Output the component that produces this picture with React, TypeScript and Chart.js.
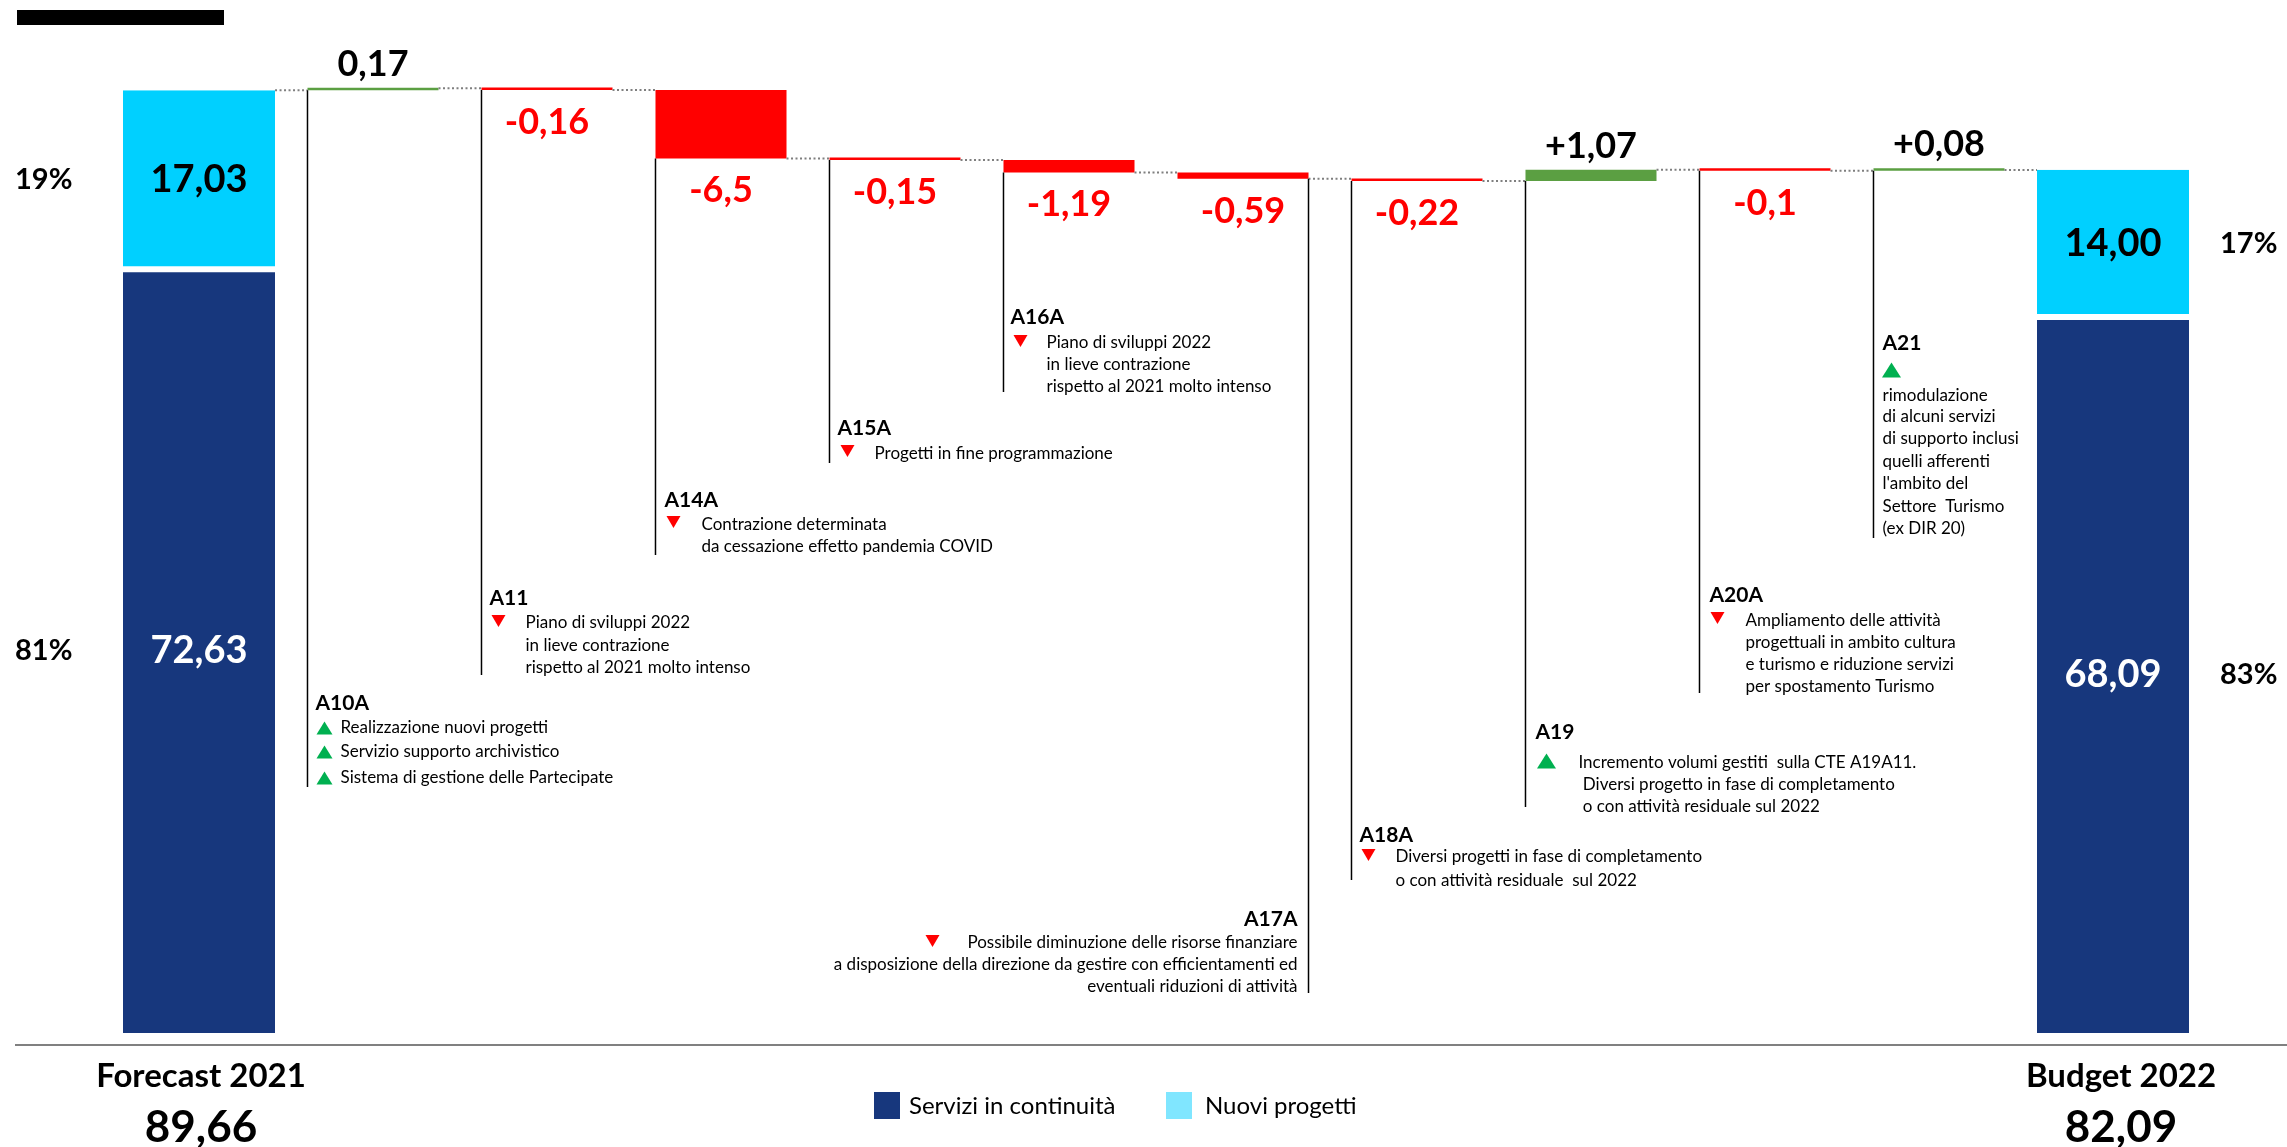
import React, { useEffect, useRef } from 'react';
import { Chart, registerables } from 'chart.js';

Chart.register(...registerables);

// ---------------- DATA ----------------
const categories = ['Forecast 2021', 'A10A', 'A11', 'A14A', 'A15A', 'A16A', 'A17A', 'A18A', 'A19', 'A20A', 'A21', 'Budget 2022'];
const totalNames = ['Forecast 2021', 'Budget 2022'];
const totalValues = [89.66, 82.09];
const totalLabels = ['89,66', '82,09'];
const continuityValues = [72.63, 68.09];
const newProjectValues = [17.03, 14.0];
const deltaValues = [0.17, -0.16, -6.5, -0.15, -1.19, -0.59, -0.22, 1.07, -0.1, 0.08];
const deltaLabels = ['0,17', '-0,16', '-6,5', '-0,15', '-1,19', '-0,59', '-0,22', '+1,07', '-0,1', '+0,08'];
const legendLabels = ['Servizi in continuità', 'Nuovi progetti'];

const noteTexts: string[][] = [
  ['Realizzazione nuovi progetti', 'Servizio supporto archivistico', 'Sistema di gestione delle Partecipate'],
  ['Piano di sviluppi 2022', 'in lieve contrazione', 'rispetto al 2021 molto intenso'],
  ['Contrazione determinata', 'da cessazione effetto pandemia COVID'],
  ['Progetti in fine programmazione'],
  ['Piano di sviluppi 2022', 'in lieve contrazione', 'rispetto al 2021 molto intenso'],
  ['Possibile diminuzione delle risorse finanziare', 'a disposizione della direzione da gestire con efficientamenti ed', 'eventuali riduzioni di attività'],
  ['Diversi progetti in fase di completamento', 'o con attività residuale  sul 2022'],
  ['Incremento volumi gestiti  sulla CTE A19A11.', ' Diversi progetto in fase di completamento', ' o con attività residuale sul 2022'],
  ['Ampliamento delle attività', 'progettuali in ambito cultura', 'e turismo e riduzione servizi', 'per spostamento Turismo'],
  ['rimodulazione', 'di alcuni servizi', 'di supporto inclusi', 'quelli afferenti', "l'ambito del", 'Settore  Turismo', '(ex DIR 20)'],
];

// ---------------- STYLE / LAYOUT ----------------
const DARK = '#17377D';
const LIGHT = '#00D0FF';
const LIGHT_LEGEND = '#80E6FF';
const RED = '#FF0000';
const GREEN = '#5B9F42';
const TRI_GREEN = '#00B050';
const FONT = 'Lato, "Open Sans", sans-serif';

type NoteLayout = {
  anchor: 'left' | 'right';
  titleDx: number;
  titleY: number;
  tris: number[][];
  triW: number;
  triH: number;
  textDx: number;
  lineYs: number[];
  bottom: number;
};

const noteLayouts: NoteLayout[] = [
  { anchor: 'left', titleDx: 8, titleY: 703, tris: [[17, 728], [17, 752], [17, 778]], triW: 16, triH: 13, textDx: 33, lineYs: [728, 752, 778], bottom: 787 },
  { anchor: 'left', titleDx: 8, titleY: 598, tris: [[17, 621]], triW: 14, triH: 12, textDx: 44, lineYs: [623, 646, 668], bottom: 675 },
  { anchor: 'left', titleDx: 9, titleY: 500, tris: [[18, 522]], triW: 14, triH: 12, textDx: 46, lineYs: [525, 547], bottom: 555 },
  { anchor: 'left', titleDx: 8, titleY: 428, tris: [[18, 451]], triW: 14, triH: 12, textDx: 45, lineYs: [454], bottom: 463 },
  { anchor: 'left', titleDx: 7, titleY: 317, tris: [[17, 341]], triW: 14, triH: 12, textDx: 43, lineYs: [343, 365, 387], bottom: 392 },
  { anchor: 'right', titleDx: -11, titleY: 919, tris: [[-376, 941]], triW: 14, triH: 12, textDx: -11, lineYs: [943, 965, 987], bottom: 993 },
  { anchor: 'left', titleDx: 8, titleY: 835, tris: [[17, 855]], triW: 14, triH: 12, textDx: 44, lineYs: [857, 881], bottom: 880 },
  { anchor: 'left', titleDx: 10, titleY: 732, tris: [[21, 761]], triW: 19, triH: 15, textDx: 53, lineYs: [763, 785, 807], bottom: 807 },
  { anchor: 'left', titleDx: 10, titleY: 595, tris: [[18, 618]], triW: 14, triH: 12, textDx: 46, lineYs: [621, 643, 665, 687], bottom: 693 },
  { anchor: 'left', titleDx: 9, titleY: 343, tris: [[18, 370]], triW: 19, triH: 15, textDx: 9, lineYs: [396, 417, 439, 462, 484, 507, 529], bottom: 538 },
];

function fmt(v: number) {
  return v.toFixed(2).replace('.', ',');
}

function triangle(ctx: CanvasRenderingContext2D, cx: number, cy: number, w: number, h: number, up: boolean, color: string) {
  ctx.beginPath();
  if (up) {
    ctx.moveTo(cx - w / 2, cy + h / 2);
    ctx.lineTo(cx + w / 2, cy + h / 2);
    ctx.lineTo(cx, cy - h / 2);
  } else {
    ctx.moveTo(cx - w / 2, cy - h / 2);
    ctx.lineTo(cx + w / 2, cy - h / 2);
    ctx.lineTo(cx, cy + h / 2);
  }
  ctx.closePath();
  ctx.fillStyle = color;
  ctx.fill();
}

const overlayPlugin = {
  id: 'overlay',
  afterDatasetsDraw(chart: any) {
    const ctx: CanvasRenderingContext2D = chart.ctx;
    const yScale = chart.scales.y;
    const darkMeta = chart.getDatasetMeta(0);
    const lightMeta = chart.getDatasetMeta(1);
    const stepMeta = chart.getDatasetMeta(2);
    const n = categories.length;
    const last = n - 1;

    ctx.save();

    // redacted title block
    ctx.fillStyle = '#000';
    ctx.fillRect(17, 10, 207, 15);

    // baseline axis
    ctx.strokeStyle = '#808080';
    ctx.lineWidth = 2;
    ctx.beginPath();
    ctx.moveTo(15, 1045);
    ctx.lineTo(2287, 1045);
    ctx.stroke();

    const barAt = (i: number) => {
      const el = i === 0 || i === last ? darkMeta.data[i] : stepMeta.data[i];
      return { left: el.x - el.width / 2, right: el.x + el.width / 2, x: el.x };
    };

    // dotted connectors
    ctx.strokeStyle = '#7f7f7f';
    ctx.lineWidth = 2;
    ctx.setLineDash([2, 2.5]);
    let level = totalValues[0];
    for (let i = 0; i < last; i++) {
      if (i > 0) level += deltaValues[i - 1];
      const py = yScale.getPixelForValue(level);
      const a = barAt(i);
      const b = barAt(i + 1);
      ctx.beginPath();
      ctx.moveTo(a.right, py);
      ctx.lineTo(b.left, py);
      ctx.stroke();
    }
    ctx.setLineDash([]);

    // step labels + annotation lines/text
    for (let k = 0; k < deltaValues.length; k++) {
      const i = k + 1;
      const el = stepMeta.data[i];
      const top = Math.min(el.y, el.base);
      const bottom = Math.max(el.y, el.base);
      const left = el.x - el.width / 2;
      const right = el.x + el.width / 2;
      const d = deltaValues[k];
      ctx.font = `bold 36px ${FONT}`;
      ctx.textAlign = 'center';
      ctx.textBaseline = 'alphabetic';
      if (d >= 0) {
        ctx.fillStyle = '#000';
        ctx.fillText(deltaLabels[k], el.x, top - 12);
      } else {
        ctx.fillStyle = RED;
        ctx.fillText(deltaLabels[k], el.x, bottom + 44);
      }

      const L = noteLayouts[k];
      const ax = L.anchor === 'left' ? left : right;
      ctx.strokeStyle = '#000';
      ctx.lineWidth = 1.5;
      ctx.beginPath();
      ctx.moveTo(ax, bottom);
      ctx.lineTo(ax, L.bottom);
      ctx.stroke();

      const align = L.anchor === 'left' ? 'left' : 'right';
      ctx.textAlign = align as CanvasTextAlign;
      ctx.textBaseline = 'middle';
      ctx.fillStyle = '#000';
      ctx.font = `bold 21px ${FONT}`;
      ctx.fillText(categories[i], ax + L.titleDx, L.titleY);

      for (const t of L.tris) {
        triangle(ctx, ax + t[0], t[1], L.triW, L.triH, d >= 0, d >= 0 ? TRI_GREEN : RED);
      }

      ctx.fillStyle = '#000';
      ctx.font = `17px ${FONT}`;
      const lines = noteTexts[k];
      for (let j = 0; j < lines.length; j++) {
        ctx.fillText(lines[j], ax + L.textDx, L.lineYs[j]);
      }
    }

    // totals: segment labels, percentages, axis labels
    for (let t = 0; t < 2; t++) {
      const i = t === 0 ? 0 : last;
      const dEl = darkMeta.data[i];
      const lEl = lightMeta.data[i];
      const dMid = (dEl.y + dEl.base) / 2;
      const lMid = (lEl.y + lEl.base) / 2;
      ctx.textBaseline = 'middle';
      ctx.textAlign = 'center';
      ctx.font = `bold 38px ${FONT}`;
      ctx.fillStyle = '#000';
      ctx.fillText(fmt(newProjectValues[t]), lEl.x, lMid);
      ctx.fillStyle = '#fff';
      ctx.fillText(fmt(continuityValues[t]), dEl.x, dMid);

      const pNew = Math.round((newProjectValues[t] / totalValues[t]) * 100) + '%';
      const pCont = Math.round((continuityValues[t] / totalValues[t]) * 100) + '%';
      ctx.font = `bold 29px ${FONT}`;
      ctx.fillStyle = '#000';
      ctx.textAlign = 'left';
      if (t === 0) {
        ctx.fillText(pNew, 15, lMid);
        ctx.fillText(pCont, 15, dMid);
      } else {
        const rx = dEl.x + dEl.width / 2 + 31;
        ctx.fillText(pNew, rx, lMid);
        ctx.fillText(pCont, rx, dMid);
      }

      ctx.textAlign = 'center';
      ctx.textBaseline = 'alphabetic';
      ctx.font = `bold 33px ${FONT}`;
      ctx.fillText(totalNames[t], dEl.x + (t === 0 ? 2 : 8), 1087);
      ctx.font = `bold 44px ${FONT}`;
      ctx.fillText(totalLabels[t], dEl.x + (t === 0 ? 2 : 8), 1142);
    }

    // legend
    ctx.textAlign = 'left';
    ctx.textBaseline = 'middle';
    ctx.font = `24px ${FONT}`;
    ctx.fillStyle = DARK;
    ctx.fillRect(874, 1092, 26, 27);
    ctx.fillStyle = '#000';
    ctx.fillText(legendLabels[0], 909, 1106);
    ctx.fillStyle = LIGHT_LEGEND;
    ctx.fillRect(1166, 1092, 26, 27);
    ctx.fillStyle = '#000';
    ctx.fillText(legendLabels[1], 1205, 1106);

    ctx.restore();
  },
};

export default function App() {
  const canvasRef = useRef<HTMLCanvasElement | null>(null);

  useEffect(() => {
    if (!canvasRef.current) return;
    const n = categories.length;
    const last = n - 1;

    const darkData: any[] = categories.map(() => null);
    const lightData: any[] = categories.map(() => null);
    darkData[0] = [0, continuityValues[0]];
    darkData[last] = [0, continuityValues[1]];
    lightData[0] = [continuityValues[0], continuityValues[0] + newProjectValues[0]];
    lightData[last] = [continuityValues[1], continuityValues[1] + newProjectValues[1]];

    const stepData: any[] = [null];
    const stepColors: string[] = [GREEN];
    let lvl = totalValues[0];
    for (const d of deltaValues) {
      stepData.push([lvl, lvl + d]);
      stepColors.push(d >= 0 ? GREEN : RED);
      lvl += d;
    }
    stepData.push(null);
    stepColors.push(GREEN);

    const chart = new Chart(canvasRef.current, {
      type: 'bar',
      data: {
        labels: categories,
        datasets: [
          {
            label: legendLabels[0],
            data: darkData,
            backgroundColor: DARK,
            borderColor: '#ffffff',
            borderWidth: { top: 3, bottom: 0, left: 0, right: 0 },
            borderSkipped: false,
            grouped: false,
            categoryPercentage: 1,
            barPercentage: 0.874,
          } as any,
          {
            label: legendLabels[1],
            data: lightData,
            backgroundColor: LIGHT,
            borderColor: '#ffffff',
            borderWidth: { top: 0, bottom: 3, left: 0, right: 0 },
            borderSkipped: false,
            grouped: false,
            categoryPercentage: 1,
            barPercentage: 0.874,
          } as any,
          {
            label: 'Variazioni',
            data: stepData,
            backgroundColor: stepColors,
            borderWidth: 0,
            grouped: false,
            categoryPercentage: 1,
            barPercentage: 0.753,
            minBarLength: 2.5,
          } as any,
        ],
      },
      options: {
        animation: false,
        responsive: true,
        maintainAspectRatio: false,
        layout: { padding: { left: 112, right: 87, top: 34, bottom: 114 } },
        plugins: {
          legend: { display: false },
          tooltip: { enabled: false },
        },
        scales: {
          x: { display: false, offset: true },
          y: { display: false, min: 0, max: 95 },
        },
      },
      plugins: [overlayPlugin],
    });
    return () => chart.destroy();
  }, []);

  return (
    <div style={{ position: 'absolute', left: 0, top: 0, width: 2287, height: 1147, background: '#fff' }}>
      <canvas ref={canvasRef} />
    </div>
  );
}
